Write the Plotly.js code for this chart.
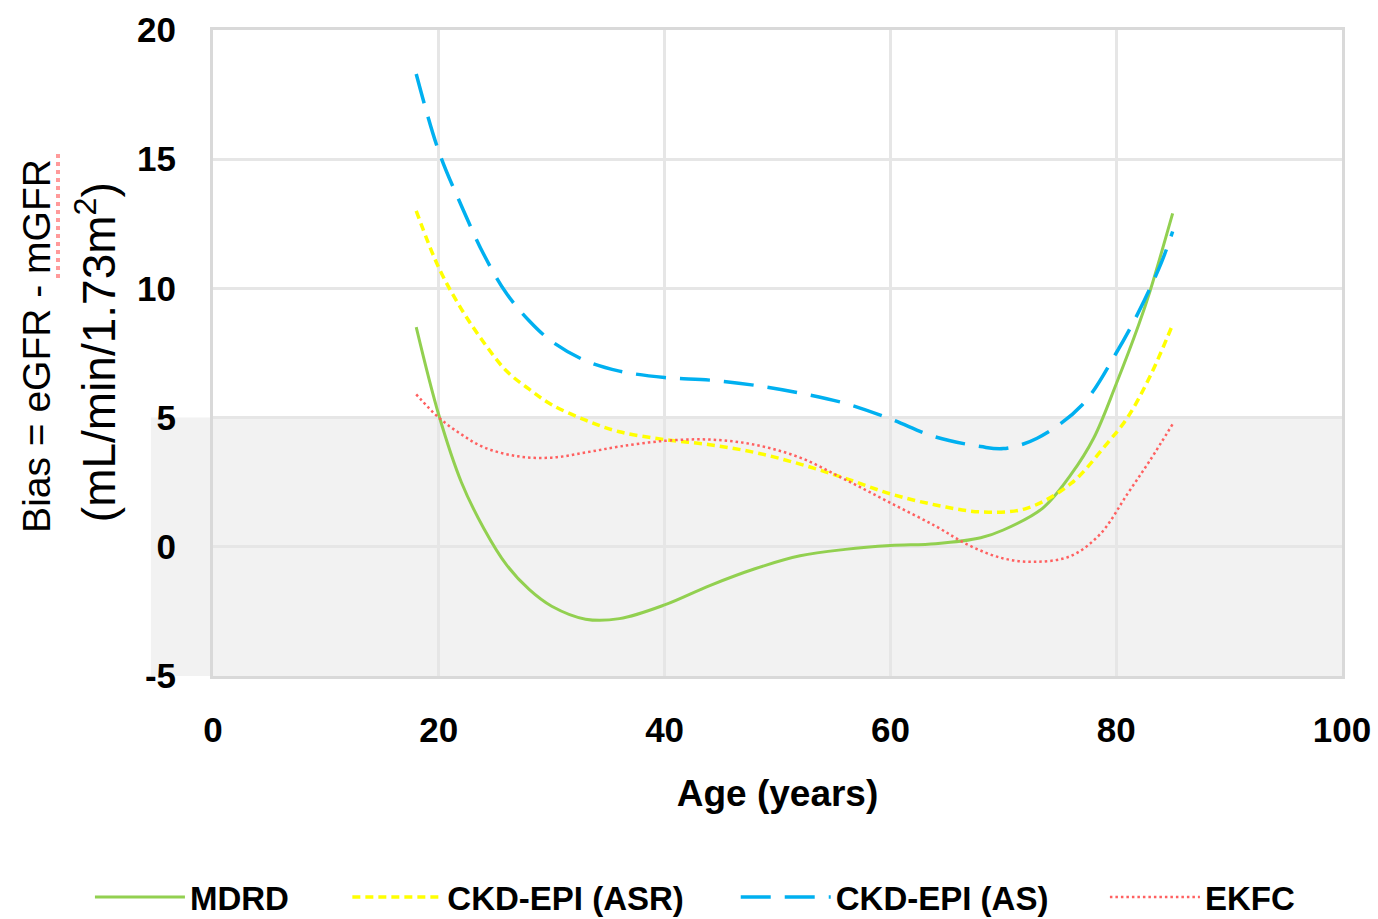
<!DOCTYPE html>
<html>
<head>
<meta charset="utf-8">
<script src="https://cdn.plot.ly/plotly-3.0.1.min.js"></script>
<style>html,body{margin:0;padding:0;background:#fff;}#chart{width:1378px;height:919px;}</style>
</head>
<body>
<div id="chart"></div>
<script>
// ---- data ----
const seriesNames = ['MDRD', 'CKD-EPI (ASR)', 'CKD-EPI (AS)', 'EKFC'];

const mdrdAge  = [18, 20, 22, 24, 26, 28, 30, 33, 36, 40, 44, 48, 52, 56, 60, 64, 68, 70, 73.5, 76, 78, 80, 82, 83, 85];
const mdrdBias = [8.5, 5.1, 2.5, 0.7, -0.7, -1.65, -2.3, -2.8, -2.78, -2.25, -1.5, -0.85, -0.35, -0.1, 0.05, 0.12, 0.35, 0.65, 1.5, 2.8, 4.2, 6.3, 8.6, 9.9, 12.9];

const asrAge  = [18, 20, 22, 24, 26, 28, 30, 33, 36, 40, 44, 48, 52, 56, 60, 64, 68, 72, 76, 79, 81, 83, 85];
const asrBias = [13.0, 10.8, 9.2, 7.9, 6.8, 6.1, 5.5, 4.9, 4.45, 4.15, 3.95, 3.65, 3.2, 2.65, 2.05, 1.62, 1.35, 1.48, 2.45, 3.9, 5.0, 6.6, 8.6];

const asAge  = [18, 20, 22, 24, 26, 28, 30, 33, 36, 40, 44, 48, 52, 56, 60, 64, 68, 70, 73, 77, 80, 82, 84, 85];
const asBias = [18.3, 15.3, 13.2, 11.3, 9.8, 8.75, 7.95, 7.2, 6.8, 6.55, 6.45, 6.25, 5.95, 5.55, 4.95, 4.25, 3.88, 3.8, 4.2, 5.5, 7.5, 9.1, 11.0, 12.2];

const ekfcAge  = [18, 20, 22, 24, 27, 30, 33, 36, 40, 44, 48, 52, 56, 60, 64, 67, 70, 73, 76, 78.6, 81, 83, 85];
const ekfcBias = [5.9, 5.0, 4.35, 3.85, 3.5, 3.45, 3.65, 3.88, 4.1, 4.15, 3.95, 3.45, 2.6, 1.7, 0.8, 0.05, -0.45, -0.58, -0.35, 0.5, 2.05, 3.35, 4.75];

const xTickVals = [0, 20, 40, 60, 80, 100];
const xTickText = ['0', '20', '40', '60', '80', '100'];
const yTickVals = [-5, 0, 5, 10, 15, 20];
const yTickText = ['-5', '0', '5', '10', '15', '20'];

const bandLow = -5, bandHigh = 5;

// ---- styles ----
const sans = 'Liberation Sans, Arial, sans-serif';

const traces = [
  {x: mdrdAge, y: mdrdBias, name: seriesNames[0], legend: 'legend',
   line: {color: '#92d050', width: 3, shape: 'spline', smoothing: 1}},
  {x: asrAge, y: asrBias, name: seriesNames[1], legend: 'legend2',
   line: {color: '#ffff00', width: 3.5, dash: '8px,5px', shape: 'spline', smoothing: 1}},
  {x: asAge, y: asBias, name: seriesNames[2], legend: 'legend3',
   line: {color: '#00b0f0', width: 3.5, dash: '30px,14px', shape: 'spline', smoothing: 1}},
  {x: ekfcAge, y: ekfcBias, name: seriesNames[3], legend: 'legend4',
   line: {color: '#ff6060', width: 2.5, dash: '2.5px,3px', shape: 'spline', smoothing: 1}}
].map(t => Object.assign({type: 'scatter', mode: 'lines', hoverinfo: 'x+y+name'}, t));

const legendFont = {family: sans, size: 33, color: '#000', weight: 'bold'};
function legendAt(x) {
  return {x: x, xanchor: 'left', xref: 'paper', y: 0.024, yref: 'container', yanchor: 'middle',
          orientation: 'h', font: legendFont, bgcolor: 'rgba(0,0,0,0)', itemwidth: 90, borderwidth: 0};
}

const layout = {
  width: 1378, height: 919,
  margin: {l: 213, r: 36, t: 30, b: 243, pad: 0, autoexpand: false},
  paper_bgcolor: '#ffffff',
  plot_bgcolor: '#ffffff',
  showlegend: true,
  legend: legendAt(-0.109),
  legend2: legendAt(0.119),
  legend3: legendAt(0.463),
  legend4: legendAt(0.790),
  xaxis: {
    range: [0, 100], tickvals: xTickVals, ticktext: xTickText, automargin: false,
    showgrid: true, gridcolor: '#e6e6e6', gridwidth: 3,
    zeroline: false, showline: true, linecolor: '#d9d9d9', linewidth: 3, mirror: true,
    ticks: '', ticklabelstandoff: 21,
    tickfont: {family: sans, size: 35, color: '#000', weight: 'bold'},
    title: {text: 'Age (years)', standoff: 33, font: {family: sans, size: 37, color: '#000', weight: 'bold'}}
  },
  yaxis: {
    range: [-5, 20], tickvals: yTickVals, ticktext: yTickText, automargin: false,
    showgrid: true, gridcolor: '#e6e6e6', gridwidth: 3,
    zeroline: false, showline: true, linecolor: '#d9d9d9', linewidth: 3, mirror: true,
    ticks: '', ticklabelstandoff: 27,
    tickfont: {family: sans, size: 35, color: '#000', weight: 'bold'}
  },
  shapes: [
    {type: 'rect', xref: 'paper', yref: 'y', x0: -0.055, x1: 1, y0: bandLow, y1: bandHigh,
     fillcolor: '#f2f2f2', line: {width: 0}, layer: 'below'},
    {type: 'line', xref: 'paper', yref: 'paper', x0: -0.1373, x1: -0.1373, y0: 0.616, y1: 0.81,
     line: {color: '#ff9a9a', width: 4, dash: 'dot'}}
  ],
  annotations: [
    {text: 'Bias = eGFR - mGFR', xref: 'paper', yref: 'paper', x: -0.1559, y: 0.511,
     xanchor: 'center', yanchor: 'middle', textangle: -90, showarrow: false,
     font: {family: sans, size: 39, color: '#000'}},
    {text: '(mL/min/1.73m<sup>2</sup>)', xref: 'paper', yref: 'paper', x: -0.1035, y: 0.5015,
     xanchor: 'center', yanchor: 'middle', textangle: -90, showarrow: false,
     font: {family: sans, size: 46, color: '#000'}}
  ]
};

Plotly.newPlot('chart', traces, layout, {displayModeBar: false, staticPlot: true});
</script>
</body>
</html>
